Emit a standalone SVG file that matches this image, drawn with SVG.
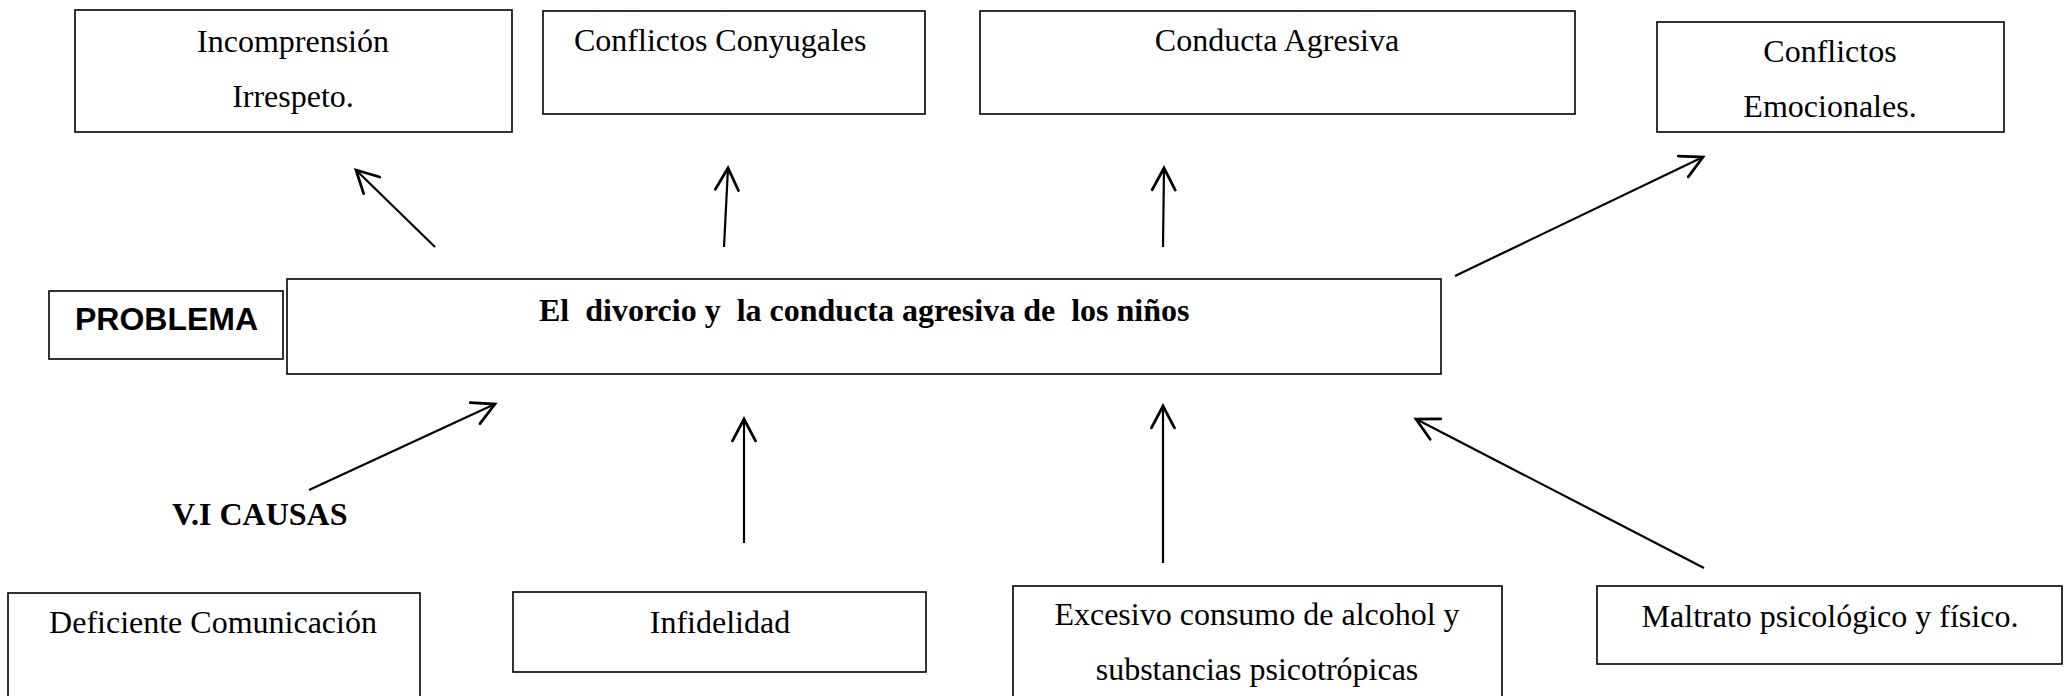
<svg xmlns="http://www.w3.org/2000/svg" width="2064" height="696" viewBox="0 0 2064 696">
<style>
.box{fill:#fff;stroke:#000;stroke-width:1.6}
.t{font-family:"Liberation Serif","Times New Roman",serif;font-size:32px;fill:#000}
.c{text-anchor:middle}
.b{font-weight:bold}
.s{font-family:"Liberation Sans",Arial,sans-serif;font-size:32px;font-weight:bold;fill:#000}
.ar{stroke:#000;stroke-width:2.2;fill:none;marker-end:url(#ah)}
</style>
<defs>
<marker id="ah" markerUnits="userSpaceOnUse" markerWidth="30" markerHeight="30" viewBox="-22 -12 26 24" refX="0" refY="0" orient="auto" overflow="visible">
<path d="M-19,-10 L0,0 L-19,10" fill="none" stroke="#000" stroke-width="2.4" stroke-linecap="round" stroke-linejoin="miter"/>
</marker>
</defs>
<rect width="2064" height="696" fill="#fff"/>
<g id="n-incomprension">
<rect class="box" x="75" y="10" width="437" height="122"/>
<text class="t c" x="293" y="52">Incomprensión</text>
<text class="t c" x="293" y="107">Irrespeto.</text>
</g>
<g id="n-conyugales">
<rect class="box" x="543" y="11" width="382" height="103"/>
<text class="t" x="574" y="51">Conflictos Conyugales</text>
</g>
<g id="n-conducta">
<rect class="box" x="980" y="11" width="595" height="103"/>
<text class="t c" x="1277" y="51">Conducta Agresiva</text>
</g>
<g id="n-emocionales">
<rect class="box" x="1657" y="22" width="347" height="110"/>
<text class="t c" x="1830" y="62">Conflictos</text>
<text class="t c" x="1830" y="117">Emocionales.</text>
</g>
<g id="n-problema-label">
<rect class="box" x="49" y="291" width="234" height="68"/>
<text class="s" x="75" y="330">PROBLEMA</text>
</g>
<g id="n-problema">
<rect class="box" x="287" y="279" width="1154" height="95"/>
<text class="t b" x="539" y="321" xml:space="preserve">El  divorcio y  la conducta agresiva de  los niños</text>
</g>
<g id="n-causas">
<text class="t b" x="172" y="525">V.I CAUSAS</text>
</g>
<g id="n-comunicacion">
<rect class="box" x="8" y="593" width="412" height="120"/>
<text class="t c" x="213" y="633">Deficiente Comunicación</text>
</g>
<g id="n-infidelidad">
<rect class="box" x="513" y="592" width="413" height="80"/>
<text class="t c" x="720" y="633">Infidelidad</text>
</g>
<g id="n-alcohol">
<rect class="box" x="1013" y="586" width="489" height="130"/>
<text class="t c" x="1257" y="625">Excesivo consumo de alcohol y</text>
<text class="t c" x="1257" y="680">substancias psicotrópicas</text>
</g>
<g id="n-maltrato">
<rect class="box" x="1597" y="586" width="465" height="78"/>
<text class="t c" x="1830" y="627">Maltrato psicológico y físico.</text>
</g>
<g id="connectors">
<line class="ar" x1="435" y1="247" x2="356" y2="170"/>
<line class="ar" x1="724" y1="247" x2="728" y2="168"/>
<line class="ar" x1="1163" y1="247" x2="1164" y2="168"/>
<line class="ar" x1="1455" y1="276" x2="1703" y2="157"/>
<line class="ar" x1="309" y1="490" x2="495" y2="404"/>
<line class="ar" x1="744" y1="543" x2="744" y2="419"/>
<line class="ar" x1="1163" y1="563" x2="1163" y2="406"/>
<line class="ar" x1="1704" y1="568" x2="1416" y2="419"/>
</g>
</svg>
